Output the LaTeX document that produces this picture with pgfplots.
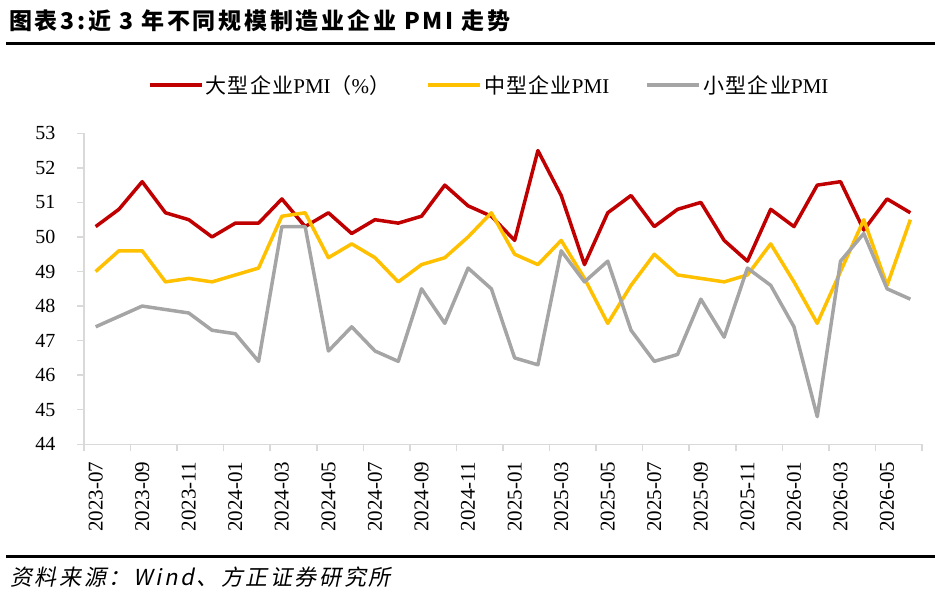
\documentclass[border=0pt]{standalone}
\usepackage{pgfplots}
\pgfplotsset{compat=1.18}
\usepackage{pgfplotstable}
\usepackage{fontspec}
\setmainfont{Liberation Serif}
\newfontfamily\cjk{Noto Sans CJK SC}
\newfontfamily\cjktitle{Noto Sans CJK SC}[LetterSpace=12]
\newfontfamily\cjkfoot{Noto Sans CJK SC}[FakeSlant=0.2,LetterSpace=12]
\newfontfamily\cjkleg{Noto Sans CJK SC}[LetterSpace=6]
\definecolor{cRed}{HTML}{C00000}
\definecolor{cYel}{HTML}{FFC000}
\definecolor{cGry}{HTML}{A5A5A5}
\definecolor{cAx}{HTML}{D9D9D9}
\pgfplotstableread{
x big mid small
0 50.3 49.0 47.4
1 50.8 49.6 47.7
2 51.6 49.6 48.0
3 50.7 48.7 47.9
4 50.5 48.8 47.8
5 50.0 48.7 47.3
6 50.4 48.9 47.2
7 50.4 49.1 46.4
8 51.1 50.6 50.3
9 50.3 50.7 50.3
10 50.7 49.4 46.7
11 50.1 49.8 47.4
12 50.5 49.4 46.7
13 50.4 48.7 46.4
14 50.6 49.2 48.5
15 51.5 49.4 47.5
16 50.9 50.0 49.1
17 50.6 50.7 48.5
18 49.9 49.5 46.5
19 52.5 49.2 46.3
20 51.2 49.9 49.6
21 49.2 48.8 48.7
22 50.7 47.5 49.3
23 51.2 48.6 47.3
24 50.3 49.5 46.4
25 50.8 48.9 46.6
26 51.0 48.8 48.2
27 49.9 48.7 47.1
28 49.3 48.9 49.1
29 50.8 49.8 48.6
30 50.3 48.7 47.4
31 51.5 47.5 44.8
32 51.6 49.0 49.3
33 50.2 50.5 50.1
34 51.1 48.6 48.5
35 50.7 50.5 48.2
}\datatable
\begin{document}
\begin{tikzpicture}
\useasboundingbox (0pt,0pt) rectangle (935pt,601pt);
% title
\node[anchor=base west,inner sep=0pt] at (9pt,571pt) {\cjktitle\bfseries\fontsize{23pt}{27pt}\selectfont 图表3:近 3 年不同规模制造业企业 PMI 走势};
\draw[line width=3pt] (6pt,557.7pt) -- (935pt,557.7pt);
% footer
\draw[line width=3pt] (6pt,44.3pt) -- (935pt,44.3pt);
\node[anchor=base west,inner sep=0pt] at (10pt,15pt) {\cjkfoot\fontsize{22pt}{26pt}\selectfont 资料来源：Wind、方正证券研究所};
\begin{axis}[
  at={(84pt,156.7pt)}, anchor=south west,
  width=838pt, height=311pt, scale only axis,
  xmin=-0.5, xmax=35.5, ymin=44, ymax=53,
  axis x line*=bottom, axis y line*=left,
  axis line style={draw=cAx, line width=1.5pt, -},
  xtick={0,2,...,34},
  xticklabels={2023-07,2023-09,2023-11,2024-01,2024-03,2024-05,2024-07,2024-09,2024-11,2025-01,2025-03,2025-05,2025-07,2025-09,2025-11,2026-01,2026-03,2026-05},
  major x tick style={draw=none},
  minor xtick={-0.5,1.5,...,35.5},
  minor tick length=7pt,
  minor x tick style={draw=cAx, line width=1.5pt},
  ytick={44,45,...,53},
  major tick length=7pt,
  tick align=outside,
  ytick style={draw=cAx, line width=1.5pt},
  /pgf/number format/assume math mode=true,
  yticklabel style={font=\fontsize{20pt}{24pt}\selectfont, anchor=east, xshift=-18pt},
  xticklabel style={font=\fontsize{21pt}{25pt}\selectfont, rotate=90, anchor=east, yshift=0pt, xshift=-7pt},
  legend columns=3,
  legend style={draw=none, fill=none, at={(0.4833,1.155)}, anchor=center,
    font=\fontsize{21pt}{25pt}\selectfont,
    /tikz/every even column/.append style={column sep=34pt},
    nodes={inner sep=2pt}},
  legend image code/.code={\draw[#1, line width=4pt] (0pt,0pt) -- (52pt,0pt);},
  every axis plot/.append style={line width=3.5pt, line join=round, mark=none},
  clip=false,
]
\addplot[cRed] table[x=x,y=big] {\datatable};
\addlegendentry{{\cjkleg 大型企业}PMI{\cjk （}\%{\cjk ）}}
\addplot[cYel] table[x=x,y=mid] {\datatable};
\addlegendentry{{\cjkleg 中型企业}PMI}
\addplot[cGry] table[x=x,y=small] {\datatable};
\addlegendentry{{\cjkleg 小型企业}PMI}
\end{axis}
\end{tikzpicture}
\end{document}
